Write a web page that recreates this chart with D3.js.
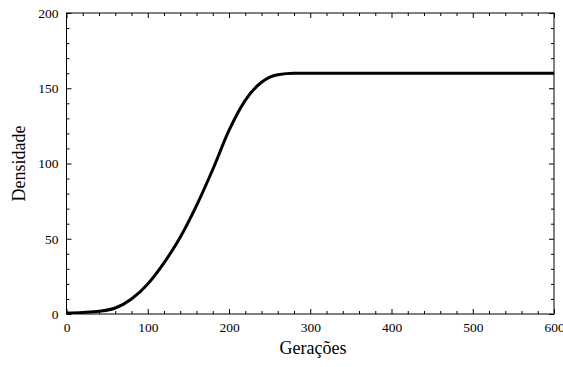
<!DOCTYPE html>
<html>
<head>
<meta charset="utf-8">
<script src="https://d3js.org/d3.v7.min.js"></script>
<style>
  body { margin: 0; background: #fff; }
  svg text { font-family: "Liberation Serif", "Times New Roman", serif !important; fill: #000; }
</style>
</head>
<body>
<div id="chart"></div>
<script>
// values
var geracoes = [0, 20, 40, 60, 80, 100, 120, 140, 160, 180, 200, 220, 240, 260, 280, 300, 350, 400, 450, 500, 550, 600];
var densidade = [0.6, 1, 1.8, 4, 10, 20, 34, 51, 72, 96, 122, 142, 154, 159, 160, 160, 160, 160, 160, 160, 160, 160];
var xTicks = [0, 100, 200, 300, 400, 500, 600];
var yTicks = [0, 50, 100, 150, 200];

var width = 563, height = 367;
var margin = {top: 13, right: 9, bottom: 53, left: 66.5};
var w = width - margin.left - margin.right,
    h = height - margin.top - margin.bottom;

var svg = d3.select("#chart").append("svg")
    .attr("width", width)
    .attr("height", height);

var g = svg.append("g")
    .attr("transform", "translate(" + margin.left + "," + margin.top + ")");

var x = d3.scaleLinear().domain([0, 600]).range([0, w]);
var y = d3.scaleLinear().domain([0, 200]).range([h, 0]);

// minor ticks
var xMinor = d3.range(0, 601, 20).filter(function(d) { return d % 100 != 0; });
var yMinor = d3.range(0, 201, 10).filter(function(d) { return d % 50 != 0; });

function frameAxis(axis, minor, major, transform, labels) {
  var a = g.append("g").attr("transform", transform);
  a.call(axis.tickValues(minor).tickSize(-3).tickFormat(""));
  var b = g.append("g").attr("transform", transform);
  b.call(axis.tickValues(major).tickSize(-5).tickPadding(8).tickFormat(labels ? d3.format("d") : ""));
  [a, b].forEach(function(s) {
    s.attr("font-family", null).attr("font-size", null);
    s.select(".domain").remove();
    s.selectAll("line").attr("stroke", "#000").attr("stroke-width", 1);
    s.selectAll("text").style("font-size", "13.5px");
  });
}

frameAxis(d3.axisBottom(x), xMinor, xTicks, "translate(0," + h + ")", true);
frameAxis(d3.axisTop(x), xMinor, xTicks, "translate(0,0)", false);
frameAxis(d3.axisLeft(y), yMinor, yTicks, "translate(0,0)", true);
frameAxis(d3.axisRight(y), yMinor, yTicks, "translate(" + w + ",0)", false);

g.append("rect")
  .attr("width", w).attr("height", h)
  .attr("fill", "none").attr("stroke", "#000").attr("stroke-width", 1);

// the curve
svg.append("clipPath").attr("id", "clip").append("rect")
  .attr("width", w).attr("height", h);

g.append("path")
  .datum(geracoes)
  .attr("clip-path", "url(#clip)")
  .attr("fill", "none")
  .attr("stroke", "#000")
  .attr("stroke-width", 3)
  .attr("d", d3.line()
    .x(function(d) { return x(d); })
    .y(function(d, i) { return y(densidade[i]); })
    .curve(d3.curveMonotoneX));

// axis titles
svg.append("text")
  .attr("x", 313)
  .attr("y", 354)
  .attr("text-anchor", "middle")
  .style("font-size", "18px")
  .text("Gerações");

svg.append("text")
  .attr("transform", "translate(25," + (margin.top + h / 2) + ") rotate(-90)")
  .attr("text-anchor", "middle")
  .style("font-size", "18px")
  .text("Densidade");
</script>
</body>
</html>
